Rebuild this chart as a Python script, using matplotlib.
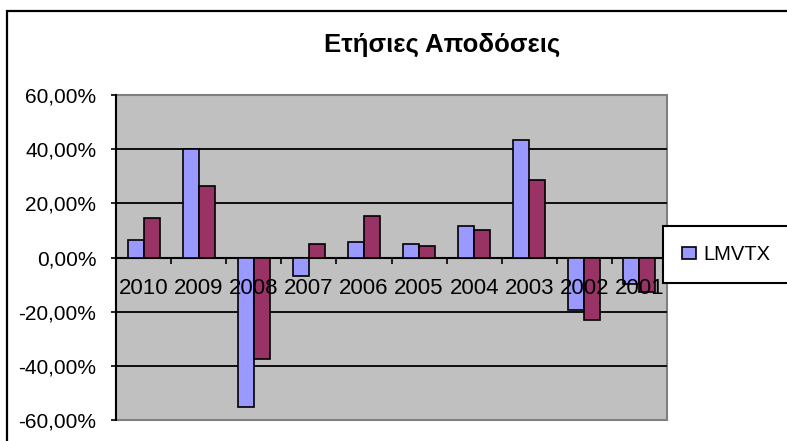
"""
Annual returns bar chart (LMVTX vs benchmark), Excel-style.
"""

import matplotlib
matplotlib.use('Agg')
import matplotlib.pyplot as plt
from matplotlib.patches import Rectangle
from matplotlib.ticker import FixedLocator, FuncFormatter

plt.rcParams['font.family'] = ['Liberation Sans', 'DejaVu Sans']

years = ['2010', '2009', '2008', '2007', '2006', '2005', '2004', '2003', '2002', '2001']
fund_returns = [6.4, 40.2, -55.1, -6.8, 5.8, 5.0, 11.7, 43.3, -19.4, -9.6]
index_returns = [14.6, 26.3, -37.5, 5.0, 15.4, 4.3, 10.2, 28.6, -23.0, -12.9]
fund_name = 'LMVTX'
title = 'Ετήσιες Αποδόσεις'
y_ticks = [-60, -40, -20, 0, 20, 40, 60]
grid_ticks = [-40, -20, 20, 40]

W, H = 787, 441
fig = plt.figure(figsize=(W / 100, H / 100), dpi=100)

# chart area frame (runs off the right and bottom edges)
fig.patches.append(Rectangle((7 / W, -0.1), 1.2, 1 - 11 / H + 0.1,
                             transform=fig.transFigure, fill=False,
                             edgecolor='black', linewidth=1.6, zorder=0))

ax = fig.add_axes([116 / W, 1 - 420 / H, 551 / W, 325 / H])
ax.patch.set_facecolor('#C0C0C0')
ax.patch.set_edgecolor('#808080')
ax.patch.set_linewidth(1.5)

for g in grid_ticks:
    ax.axhline(g, color='black', linewidth=1.3, zorder=1)

x = list(range(len(years)))
bw = 0.29
ax.bar([i - bw / 2 for i in x], fund_returns, bw, color='#9999FF',
       edgecolor='black', linewidth=1.2, zorder=3, label=fund_name)
ax.bar([i + bw / 2 for i in x], index_returns, bw, color='#993366',
       edgecolor='black', linewidth=1.2, zorder=3)

ax.set_xlim(-0.5, len(years) - 0.5)
ax.set_ylim(-60, 60)

ax.yaxis.set_major_locator(FixedLocator(y_ticks))
ax.yaxis.set_major_formatter(FuncFormatter(lambda v, p: f'{v:.2f}%'.replace('.', ',')))
ax.tick_params(axis='y', direction='out', length=3.6, width=1.2,
               pad=10.5, labelsize=15, colors='black')

ax.xaxis.set_major_locator(FixedLocator([i - 0.5 for i in range(len(years) + 1)]))
ax.xaxis.set_major_formatter(FuncFormatter(lambda v, p: ''))
ax.tick_params(axis='x', direction='out', length=4.3, width=1.2, colors='black')

ax.spines['bottom'].set_position(('data', 0))
ax.spines['bottom'].set_linewidth(1.5)
ax.spines['left'].set_linewidth(1.5)
ax.spines['top'].set_visible(False)
ax.spines['right'].set_visible(False)

for i, yr in enumerate(years):
    ax.annotate(yr, (i, 0), xytext=(0, -26), textcoords='offset points',
                ha='center', va='baseline', fontsize=16, zorder=6)

fig.text(442 / W, 1 - 45 / H, title, ha='center', va='center',
         fontsize=18.5, fontweight='bold')

leg = ax.legend(loc='upper left', bbox_to_anchor=(663 / W, 1 - 226 / H),
                bbox_transform=fig.transFigure, fontsize=14.5, frameon=True,
                fancybox=False, borderpad=0.95, handlelength=0.7,
                handleheight=0.5, handletextpad=0.35, borderaxespad=0)
leg.get_frame().set_edgecolor('black')
leg.get_frame().set_linewidth(1.5)
leg.get_frame().set_alpha(1)
leg.set_zorder(10)

fig.savefig('out.png', dpi=100)
